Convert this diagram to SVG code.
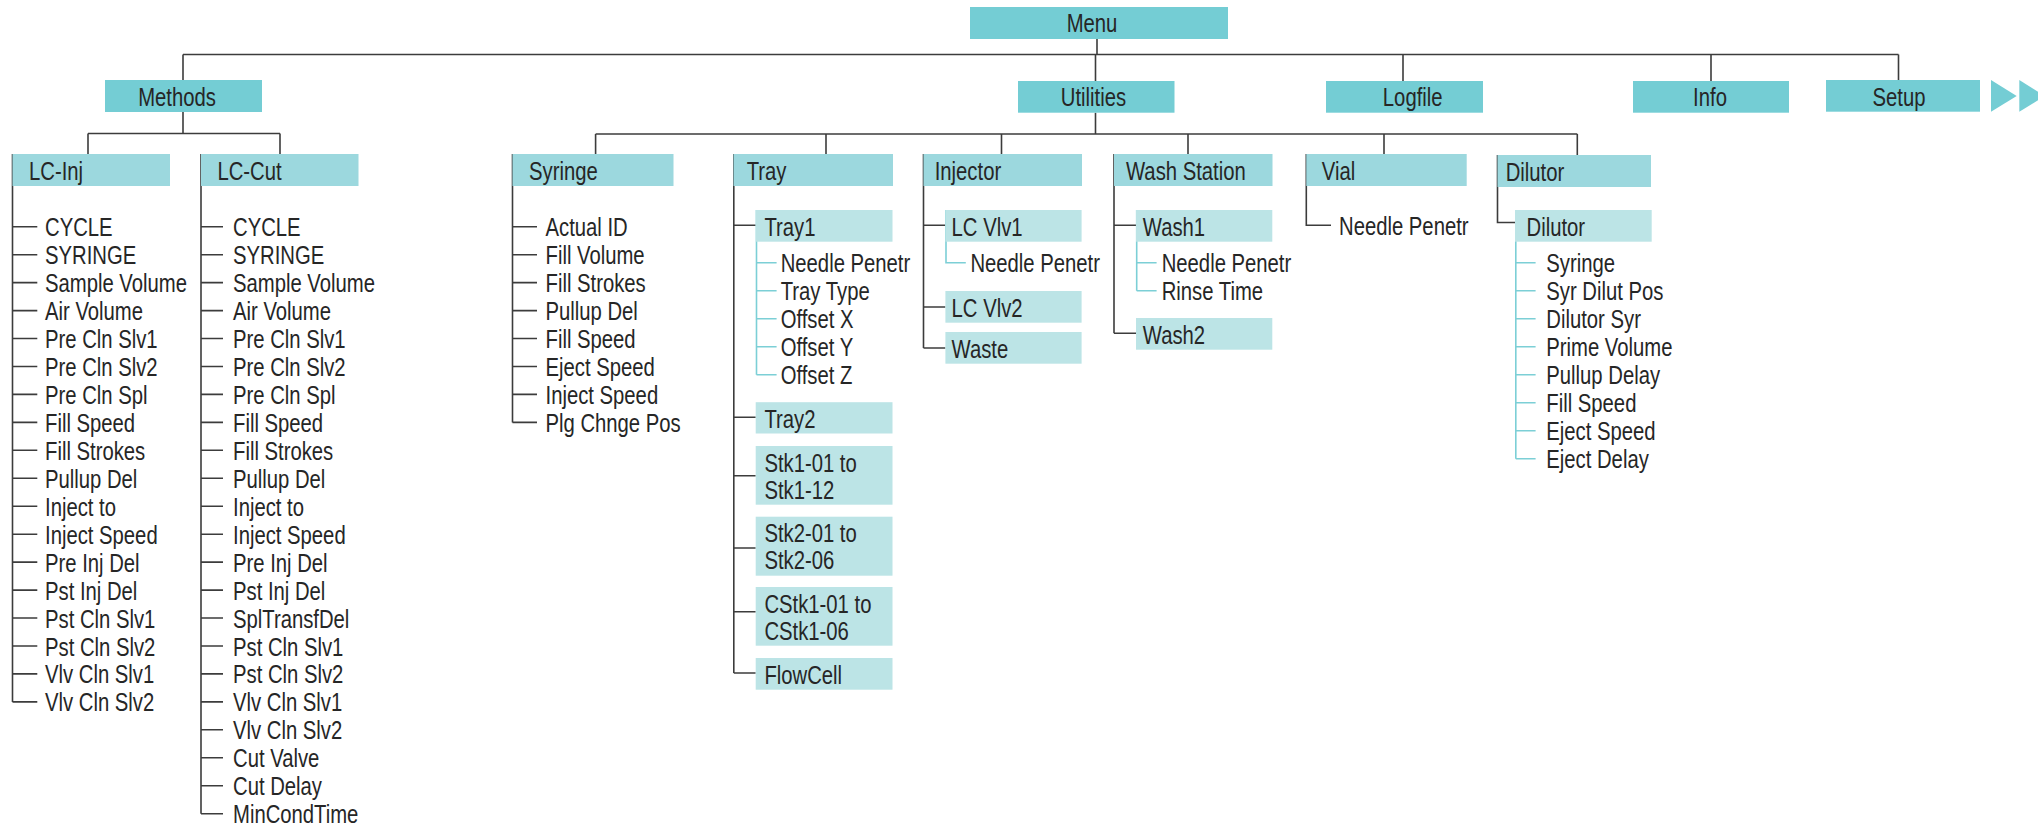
<svg xmlns="http://www.w3.org/2000/svg" width="2038" height="829" viewBox="0 0 2038 829">
<style>
.t{font-family:"Liberation Sans",Arial,sans-serif;font-size:26px;fill:#262626}
.c{text-anchor:middle}
.b1{fill:#74cdd4}
.b2{fill:#9cd8de}
.b3{fill:#bce4e6}
.ln{fill:none;stroke:#3c3c3c;stroke-width:1.6}
.lt{fill:none;stroke:#7ccfd6;stroke-width:1.6}
</style>
<rect width="2038" height="829" fill="#ffffff"/>

<g id="connectors">
  <path class="ln" d="M1097 39V54.5M183 54.5H1898.5M183 54.5V80M1095.5 54.5V81M1403 54.5V81M1711 54.5V81M1898.5 54.5V80"/>
  <path class="ln" d="M183 112V133.5M88 133.5H280M88 133.5V154M280 133.5V154"/>
  <path class="ln" d="M1095.5 112.7V134M595.6 134H1577.3M595.6 134V154M826 134V154M1001.5 134V154M1188 134V154M1384 134V154M1577.3 134V155"/>
  <!-- LC-Inj -->
  <path class="ln" d="M12.5 154V701.9M12.5 226.7H37.3M12.5 254.7H37.3M12.5 282.6H37.3M12.5 310.6H37.3M12.5 338.5H37.3M12.5 366.5H37.3M12.5 394.4H37.3M12.5 422.4H37.3M12.5 450.3H37.3M12.5 478.3H37.3M12.5 506.2H37.3M12.5 534.2H37.3M12.5 562.1H37.3M12.5 590.1H37.3M12.5 618H37.3M12.5 646H37.3M12.5 673.9H37.3M12.5 701.9H37.3"/>
  <!-- LC-Cut -->
  <path class="ln" d="M201 154V813.7M201 226.7H223M201 254.7H223M201 282.6H223M201 310.6H223M201 338.5H223M201 366.5H223M201 394.4H223M201 422.4H223M201 450.3H223M201 478.3H223M201 506.2H223M201 534.2H223M201 562.1H223M201 590.1H223M201 618H223M201 646H223M201 673.9H223M201 701.9H223M201 729.8H223M201 757.8H223M201 785.7H223M201 813.7H223"/>
  <!-- Syringe -->
  <path class="ln" d="M512.5 154V422.4M512.5 226.7H537M512.5 254.7H537M512.5 282.6H537M512.5 310.6H537M512.5 338.5H537M512.5 366.5H537M512.5 394.4H537M512.5 422.4H537"/>
  <!-- Tray -->
  <path class="ln" d="M733.8 154V673M733.8 225.3H755.7M733.8 417.3H755.7M733.8 475.7H755.7M733.8 548H755.7M733.8 611.7H755.7M733.8 673H755.7"/>
  <path class="lt" d="M756.5 210V374.7M756.5 262.7H776.6M756.5 290.7H776.6M756.5 318.7H776.6M756.5 346.7H776.6M756.5 374.7H776.6"/>
  <!-- Injector -->
  <path class="ln" d="M923.5 154V348M923.5 225.3H945.4M923.5 307H945.4M923.5 348H945.4"/>
  <path class="lt" d="M946 210V262.7H965.8"/>
  <!-- Wash Station -->
  <path class="ln" d="M1114 154V333.3M1114 225.3H1136M1114 333.3H1136"/>
  <path class="lt" d="M1136.7 210V290.7M1136.7 262.7H1156.6M1136.7 290.7H1156.6"/>
  <!-- Vial -->
  <path class="ln" d="M1306.3 154V225.3H1331"/>
  <!-- Dilutor -->
  <path class="ln" d="M1497.5 155V222.5H1515"/>
  <path class="lt" d="M1515.8 210V458.7M1515.8 262.7H1535.6M1515.8 290.7H1535.6M1515.8 318.7H1535.6M1515.8 346.7H1535.6M1515.8 374.7H1535.6M1515.8 402.7H1535.6M1515.8 430.7H1535.6M1515.8 458.7H1535.6"/>
</g>

<g id="menu"><rect class="b1" x="970" y="7" width="258" height="32"/><text class="t c" transform="translate(1092 32.3) scale(.78 1)">Menu</text></g>
<g id="methods"><rect class="b1" x="105" y="80" width="157" height="32"/><text class="t c" transform="translate(177 106) scale(.78 1)">Methods</text></g>
<g id="utilities"><rect class="b1" x="1018" y="81" width="156.5" height="31.7"/><text class="t c" transform="translate(1093.4 106.3) scale(.78 1)">Utilities</text></g>
<g id="logfile"><rect class="b1" x="1326" y="81" width="157" height="31.7"/><text class="t c" transform="translate(1412.7 106.3) scale(.78 1)">Logfile</text></g>
<g id="info"><rect class="b1" x="1633" y="81" width="156" height="31.7"/><text class="t c" transform="translate(1710 106.3) scale(.78 1)">Info</text></g>
<g id="setup"><rect class="b1" x="1826" y="80" width="154" height="31.7"/><text class="t c" transform="translate(1899 105.8) scale(.78 1)">Setup</text></g>
<g id="next-arrows"><polygon class="b1" points="1991,80 2016.7,96 1991,111.7"/><polygon class="b1" points="2019.3,80 2045,96 2019.3,111.7"/></g>

<g id="lc-inj"><rect class="b2" x="12.5" y="154" width="157.5" height="32"/><text class="t" transform="translate(29 179.7) scale(.78 1)">LC-Inj</text></g>
<g id="lc-inj-items">
<text class="t" transform="translate(45 236.2) scale(.78 1)">CYCLE</text>
<text class="t" transform="translate(45 264.2) scale(.78 1)">SYRINGE</text>
<text class="t" transform="translate(45 292.1) scale(.78 1)">Sample Volume</text>
<text class="t" transform="translate(45 320.1) scale(.78 1)">Air Volume</text>
<text class="t" transform="translate(45 348) scale(.78 1)">Pre Cln Slv1</text>
<text class="t" transform="translate(45 376) scale(.78 1)">Pre Cln Slv2</text>
<text class="t" transform="translate(45 403.9) scale(.78 1)">Pre Cln Spl</text>
<text class="t" transform="translate(45 431.9) scale(.78 1)">Fill Speed</text>
<text class="t" transform="translate(45 459.8) scale(.78 1)">Fill Strokes</text>
<text class="t" transform="translate(45 487.8) scale(.78 1)">Pullup Del</text>
<text class="t" transform="translate(45 515.7) scale(.78 1)">Inject to</text>
<text class="t" transform="translate(45 543.7) scale(.78 1)">Inject Speed</text>
<text class="t" transform="translate(45 571.6) scale(.78 1)">Pre Inj Del</text>
<text class="t" transform="translate(45 599.6) scale(.78 1)">Pst Inj Del</text>
<text class="t" transform="translate(45 627.5) scale(.78 1)">Pst Cln Slv1</text>
<text class="t" transform="translate(45 655.5) scale(.78 1)">Pst Cln Slv2</text>
<text class="t" transform="translate(45 683.4) scale(.78 1)">Vlv Cln Slv1</text>
<text class="t" transform="translate(45 711.4) scale(.78 1)">Vlv Cln Slv2</text>
</g>

<g id="lc-cut"><rect class="b2" x="201" y="154" width="157.5" height="32"/><text class="t" transform="translate(217.4 179.7) scale(.78 1)">LC-Cut</text></g>
<g id="lc-cut-items">
<text class="t" transform="translate(233 236.2) scale(.78 1)">CYCLE</text>
<text class="t" transform="translate(233 264.2) scale(.78 1)">SYRINGE</text>
<text class="t" transform="translate(233 292.1) scale(.78 1)">Sample Volume</text>
<text class="t" transform="translate(233 320.1) scale(.78 1)">Air Volume</text>
<text class="t" transform="translate(233 348) scale(.78 1)">Pre Cln Slv1</text>
<text class="t" transform="translate(233 376) scale(.78 1)">Pre Cln Slv2</text>
<text class="t" transform="translate(233 403.9) scale(.78 1)">Pre Cln Spl</text>
<text class="t" transform="translate(233 431.9) scale(.78 1)">Fill Speed</text>
<text class="t" transform="translate(233 459.8) scale(.78 1)">Fill Strokes</text>
<text class="t" transform="translate(233 487.8) scale(.78 1)">Pullup Del</text>
<text class="t" transform="translate(233 515.7) scale(.78 1)">Inject to</text>
<text class="t" transform="translate(233 543.7) scale(.78 1)">Inject Speed</text>
<text class="t" transform="translate(233 571.6) scale(.78 1)">Pre Inj Del</text>
<text class="t" transform="translate(233 599.6) scale(.78 1)">Pst Inj Del</text>
<text class="t" transform="translate(233 627.5) scale(.78 1)">SplTransfDel</text>
<text class="t" transform="translate(233 655.5) scale(.78 1)">Pst Cln Slv1</text>
<text class="t" transform="translate(233 683.4) scale(.78 1)">Pst Cln Slv2</text>
<text class="t" transform="translate(233 711.4) scale(.78 1)">Vlv Cln Slv1</text>
<text class="t" transform="translate(233 739.3) scale(.78 1)">Vlv Cln Slv2</text>
<text class="t" transform="translate(233 767.3) scale(.78 1)">Cut Valve</text>
<text class="t" transform="translate(233 795.2) scale(.78 1)">Cut Delay</text>
<text class="t" transform="translate(233 823.2) scale(.78 1)">MinCondTime</text>
</g>

<g id="syringe"><rect class="b2" x="512.5" y="154" width="161" height="32"/><text class="t" transform="translate(529 179.7) scale(.78 1)">Syringe</text></g>
<g id="syringe-items">
<text class="t" transform="translate(545.5 236.2) scale(.78 1)">Actual ID</text>
<text class="t" transform="translate(545.5 264.2) scale(.78 1)">Fill Volume</text>
<text class="t" transform="translate(545.5 292.1) scale(.78 1)">Fill Strokes</text>
<text class="t" transform="translate(545.5 320.1) scale(.78 1)">Pullup Del</text>
<text class="t" transform="translate(545.5 348) scale(.78 1)">Fill Speed</text>
<text class="t" transform="translate(545.5 376) scale(.78 1)">Eject Speed</text>
<text class="t" transform="translate(545.5 403.9) scale(.78 1)">Inject Speed</text>
<text class="t" transform="translate(545.5 431.9) scale(.78 1)">Plg Chnge Pos</text>
</g>

<g id="tray"><rect class="b2" x="733.5" y="154" width="159.5" height="32"/><text class="t" transform="translate(746.7 179.7) scale(.78 1)">Tray</text></g>
<g id="tray1"><rect class="b3" x="755.7" y="210" width="136.8" height="31.7"/><text class="t" transform="translate(764.4 236) scale(.78 1)">Tray1</text></g>
<g id="tray1-items">
<text class="t" transform="translate(780.7 272.2) scale(.78 1)">Needle Penetr</text>
<text class="t" transform="translate(780.7 300.2) scale(.78 1)">Tray Type</text>
<text class="t" transform="translate(780.7 328.2) scale(.78 1)">Offset X</text>
<text class="t" transform="translate(780.7 356.2) scale(.78 1)">Offset Y</text>
<text class="t" transform="translate(780.7 384.2) scale(.78 1)">Offset Z</text>
</g>
<g id="tray2"><rect class="b3" x="755.7" y="402.2" width="136.8" height="31.3"/><text class="t" transform="translate(764.4 428) scale(.78 1)">Tray2</text></g>
<g id="stk1"><rect class="b3" x="755.7" y="446" width="136.8" height="58.7"/><text class="t" transform="translate(764.4 471.7) scale(.78 1)">Stk1-01 to</text><text class="t" transform="translate(764.4 499.3) scale(.78 1)">Stk1-12</text></g>
<g id="stk2"><rect class="b3" x="755.7" y="516.7" width="136.8" height="59"/><text class="t" transform="translate(764.4 541.5) scale(.78 1)">Stk2-01 to</text><text class="t" transform="translate(764.4 569.3) scale(.78 1)">Stk2-06</text></g>
<g id="cstk1"><rect class="b3" x="755.7" y="587" width="136.8" height="58.7"/><text class="t" transform="translate(764.4 612.7) scale(.78 1)">CStk1-01 to</text><text class="t" transform="translate(764.4 640) scale(.78 1)">CStk1-06</text></g>
<g id="flowcell"><rect class="b3" x="755.7" y="658" width="136.8" height="31.7"/><text class="t" transform="translate(764.4 684) scale(.78 1)">FlowCell</text></g>

<g id="injector"><rect class="b2" x="923.5" y="154" width="158.5" height="32"/><text class="t" transform="translate(934.7 179.7) scale(.78 1)">Injector</text></g>
<g id="lc-vlv1"><rect class="b3" x="945.4" y="210" width="136.2" height="31.7"/><text class="t" transform="translate(951.6 236) scale(.78 1)">LC Vlv1</text></g>
<g id="lc-vlv1-items"><text class="t" transform="translate(970.4 272.2) scale(.78 1)">Needle Penetr</text></g>
<g id="lc-vlv2"><rect class="b3" x="945.4" y="291" width="136.2" height="31.7"/><text class="t" transform="translate(951.6 317) scale(.78 1)">LC Vlv2</text></g>
<g id="waste"><rect class="b3" x="945.4" y="332" width="136.2" height="31.7"/><text class="t" transform="translate(951.6 358) scale(.78 1)">Waste</text></g>

<g id="wash-station"><rect class="b2" x="1114" y="154" width="158.5" height="32"/><text class="t" transform="translate(1126 179.7) scale(.78 1)">Wash Station</text></g>
<g id="wash1"><rect class="b3" x="1136" y="210" width="136.3" height="31.7"/><text class="t" transform="translate(1142.8 236) scale(.78 1)">Wash1</text></g>
<g id="wash1-items">
<text class="t" transform="translate(1161.7 272.2) scale(.78 1)">Needle Penetr</text>
<text class="t" transform="translate(1161.7 300.2) scale(.78 1)">Rinse Time</text>
</g>
<g id="wash2"><rect class="b3" x="1136" y="318" width="136.3" height="31.7"/><text class="t" transform="translate(1142.8 344) scale(.78 1)">Wash2</text></g>

<g id="vial"><rect class="b2" x="1306.3" y="154" width="160.4" height="32"/><text class="t" transform="translate(1321.8 179.7) scale(.78 1)">Vial</text></g>
<g id="vial-items"><text class="t" transform="translate(1339 234.8) scale(.78 1)">Needle Penetr</text></g>

<g id="dilutor"><rect class="b2" x="1497.5" y="155" width="153.5" height="32"/><text class="t" transform="translate(1505.7 180.7) scale(.78 1)">Dilutor</text></g>
<g id="dilutor-sub"><rect class="b3" x="1515" y="210" width="136.7" height="31.7"/><text class="t" transform="translate(1526.5 236) scale(.78 1)">Dilutor</text></g>
<g id="dilutor-items">
<text class="t" transform="translate(1546.3 272.2) scale(.78 1)">Syringe</text>
<text class="t" transform="translate(1546.3 300.2) scale(.78 1)">Syr Dilut Pos</text>
<text class="t" transform="translate(1546.3 328.2) scale(.78 1)">Dilutor Syr</text>
<text class="t" transform="translate(1546.3 356.2) scale(.78 1)">Prime Volume</text>
<text class="t" transform="translate(1546.3 384.2) scale(.78 1)">Pullup Delay</text>
<text class="t" transform="translate(1546.3 412.2) scale(.78 1)">Fill Speed</text>
<text class="t" transform="translate(1546.3 440.2) scale(.78 1)">Eject Speed</text>
<text class="t" transform="translate(1546.3 468.2) scale(.78 1)">Eject Delay</text>
</g>
</svg>
